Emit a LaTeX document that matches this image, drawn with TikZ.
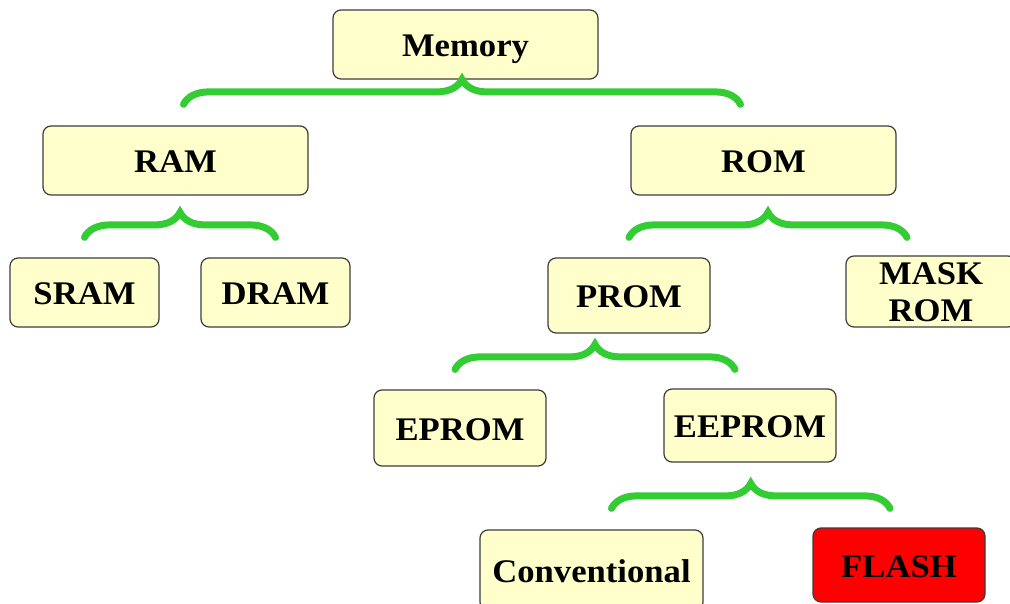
\documentclass[tikz,border=0pt]{standalone}
\usepackage{fontspec}
\setmainfont[FakeStretch=1.05]{Liberation Serif}
\usetikzlibrary{decorations.pathreplacing}

\definecolor{boxfill}{RGB}{255,255,204}
\definecolor{boxline}{RGB}{60,60,60}
\definecolor{bracegreen}{RGB}{51,204,51}

\begin{document}
\begin{tikzpicture}[
    x=1pt, y=-1pt,
    box/.style={draw=boxline, line width=1.2pt, rectangle, rounded corners=8pt, fill=boxfill, align=center, inner sep=0pt, text height=24pt, text depth=0pt, font=\fontsize{33}{37}\selectfont\bfseries},
    brc/.style={draw=bracegreen, line width=7pt, line cap=round, decorate, decoration={brace, amplitude=25pt}}
]
\clip (0,0) rectangle (1010,604);

% Top level
\node (mem) [box, minimum width=265pt, minimum height=69pt] at (465.5,44.5) {Memory};
\node (ram) [box, minimum width=265pt, minimum height=69pt] at (175.5,160.5) {RAM};
\node (rom) [box, minimum width=265pt, minimum height=69pt] at (763.5,160.5) {ROM};

% RAM branch
\node (sram) [box, minimum width=149pt, minimum height=69pt] at (84.5,292.5) {SRAM};
\node (dram) [box, minimum width=149pt, minimum height=69pt] at (275.5,292.5) {DRAM};

% ROM branch
\node (prom) [box, minimum width=162pt, minimum height=75pt] at (629,295.5) {PROM};
\node (mask) [box, text height=61pt, minimum width=170pt, minimum height=71pt] at (931,291.5) {MASK\\ROM};
\node (eprom) [box, minimum width=172pt, minimum height=76pt] at (460,428) {EPROM};
\node (eeprom) [box, minimum width=172pt, minimum height=73pt] at (750,425.5) {EEPROM};
\node (conv) [box, minimum width=223pt, minimum height=80pt] at (591.5,570) {Conventional};
\node (flash) [box, fill=red, minimum width=172pt, minimum height=74pt] at (899,565) {FLASH};

% Braces
\draw[brc] ([xshift=8pt, yshift=21pt]ram.north) -- ([xshift=-23pt, yshift=21pt]rom.north);
\draw[brc] ([yshift=20pt]sram.north) -- ([yshift=20pt]dram.north);
\draw[brc] ([yshift=20pt]prom.north) -- ([xshift=-24pt, yshift=20pt]prom.north -| mask.north);
\draw[brc] ([xshift=-5pt, yshift=20pt]eprom.north) -- ([xshift=-15pt, yshift=20pt]eprom.north -| eeprom.north);
\draw[brc] ([xshift=20pt, yshift=21pt]conv.north) -- ([xshift=-9pt, yshift=21pt]conv.north -| flash.north);

\end{tikzpicture}
\end{document}
